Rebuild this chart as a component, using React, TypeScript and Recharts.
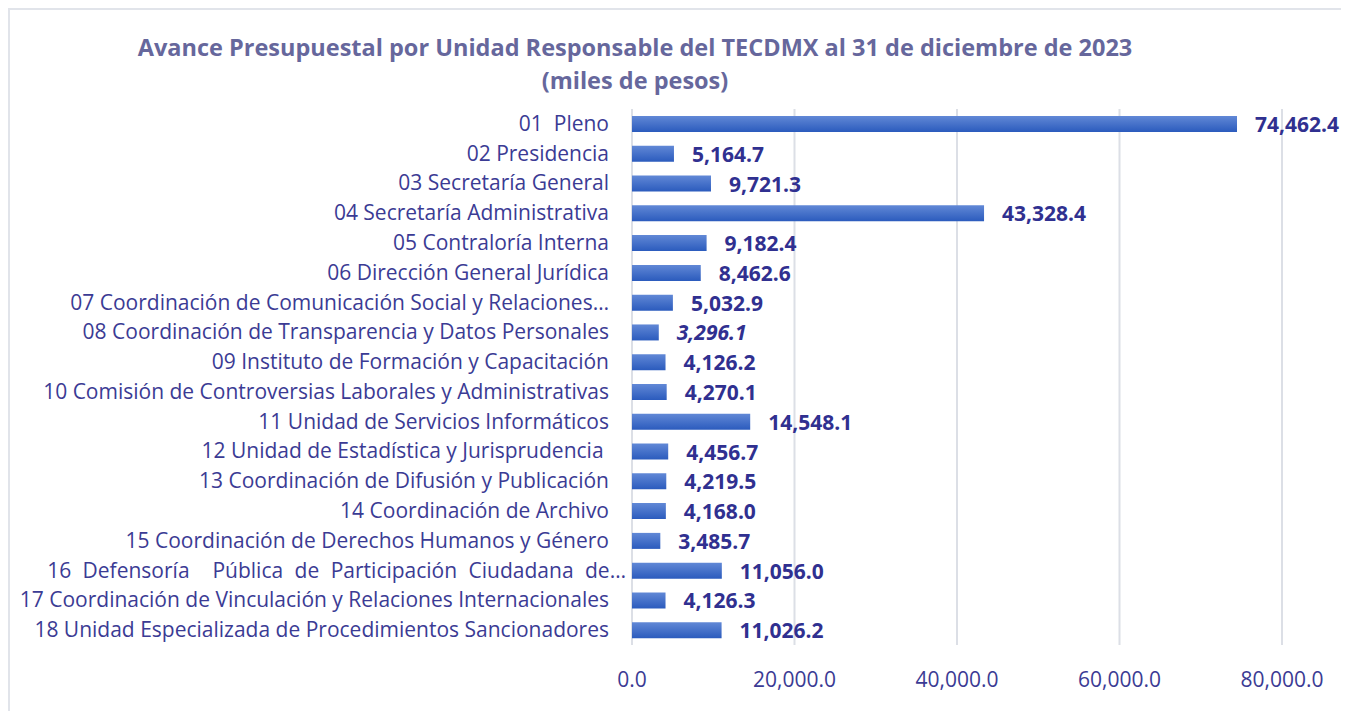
import { BarChart, Bar, XAxis, YAxis, CartesianGrid, LabelList } from 'recharts';

const units = [
  '01  Pleno',
  '02 Presidencia',
  '03 Secretaría General',
  '04 Secretaría Administrativa',
  '05 Contraloría Interna',
  '06 Dirección General Jurídica',
  '07 Coordinación de Comunicación Social y Relaciones…',
  '08 Coordinación de Transparencia y Datos Personales',
  '09 Instituto de Formación y Capacitación',
  '10 Comisión de Controversias Laborales y Administrativas',
  '11 Unidad de Servicios Informáticos',
  '12 Unidad de Estadística y Jurisprudencia ',
  '13 Coordinación de Difusión y Publicación',
  '14 Coordinación de Archivo',
  '15 Coordinación de Derechos Humanos y Género',
  '16 Defensoría  Pública de Participación Ciudadana de…',
  '17 Coordinación de Vinculación y Relaciones Internacionales',
  '18 Unidad Especializada de Procedimientos Sancionadores',
];

const amounts = [
  74462.4, 5164.7, 9721.3, 43328.4, 9182.4, 8462.6, 5032.9, 3296.1, 4126.2,
  4270.1, 14548.1, 4456.7, 4219.5, 4168.0, 3485.7, 11056.0, 4126.3, 11026.2,
];

const xTicks = [0, 20000, 40000, 60000, 80000];

const data = units.map((unit, i) => ({ unit, amount: amounts[i] }));

const fmt = (v: number) =>
  v.toLocaleString('en-US', { minimumFractionDigits: 1, maximumFractionDigits: 1 });

const FONT = '"Open Sans", sans-serif';
const TEXT = '#3b3b94';

const UnitTick = (props: any) => {
  const { x, y, payload, index } = props;
  const stretched = index === 15;
  return (
    <text
      x={stretched ? x - 6 : x - 23}
      y={y}
      dy={7}
      textAnchor="end"
      fill={TEXT}
      fontSize={21}
      fontFamily={FONT}
      style={{ whiteSpace: 'pre', wordSpacing: stretched ? 6 : 0 }}
    >
      {payload.value}
    </text>
  );
};

const AmountLabel = (props: any) => {
  const { x, y, width, height, value, index } = props;
  return (
    <text
      x={x + width + 18}
      y={y + height / 2}
      dy={8}
      fill="#303090"
      fontSize={21}
      fontWeight="bold"
      fontStyle={index === 7 ? 'italic' : 'normal'}
      fontFamily={FONT}
    >
      {fmt(value)}
    </text>
  );
};

export default function App() {
  return (
    <div
      style={{
        position: 'relative',
        width: 1331,
        height: 710,
        border: '2px solid #e1e4ea',
        borderBottom: 'none',
        background: '#fff',
        fontFamily: FONT,
      }}
    >
      <div
        style={{
          position: 'absolute',
          left: 0,
          width: 1250,
          top: 21,
          textAlign: 'center',
          color: '#66679c',
          fontWeight: 'bold',
          fontSize: 23.5,
          lineHeight: '33px',
        }}
      >
        Avance Presupuestal por Unidad Responsable del TECDMX al 31 de diciembre de 2023
        <br />
        (miles de pesos)
      </div>
      <div style={{ position: 'absolute', left: 0, top: 0 }}>
        <BarChart
          width={1331}
          height={700}
          data={data}
          layout="vertical"
          margin={{ top: 99, right: 59, bottom: 30, left: 0 }}
        >
          <defs>
            <linearGradient id="barFill" x1="0" y1="0" x2="0" y2="1">
              <stop offset="0%" stopColor="#6188d6" />
              <stop offset="100%" stopColor="#2b5bbd" />
            </linearGradient>
          </defs>
          <CartesianGrid horizontal={false} stroke="#dcdfe6" strokeWidth={2} />
          <XAxis
            type="number"
            domain={[0, 80000]}
            ticks={xTicks}
            tickFormatter={fmt}
            axisLine={false}
            tickLine={false}
            tickMargin={21}
            height={35}
            tick={{ fill: TEXT, fontSize: 21, fontFamily: FONT }}
          />
          <YAxis
            type="category"
            dataKey="unit"
            width={622}
            axisLine={false}
            tickLine={false}
            tickSize={0}
            tickMargin={0}
            interval={0}
            tick={<UnitTick />}
          />
          <Bar dataKey="amount" fill="url(#barFill)" barSize={16} isAnimationActive={false}>
            <LabelList dataKey="amount" content={<AmountLabel />} />
          </Bar>
        </BarChart>
      </div>
    </div>
  );
}
